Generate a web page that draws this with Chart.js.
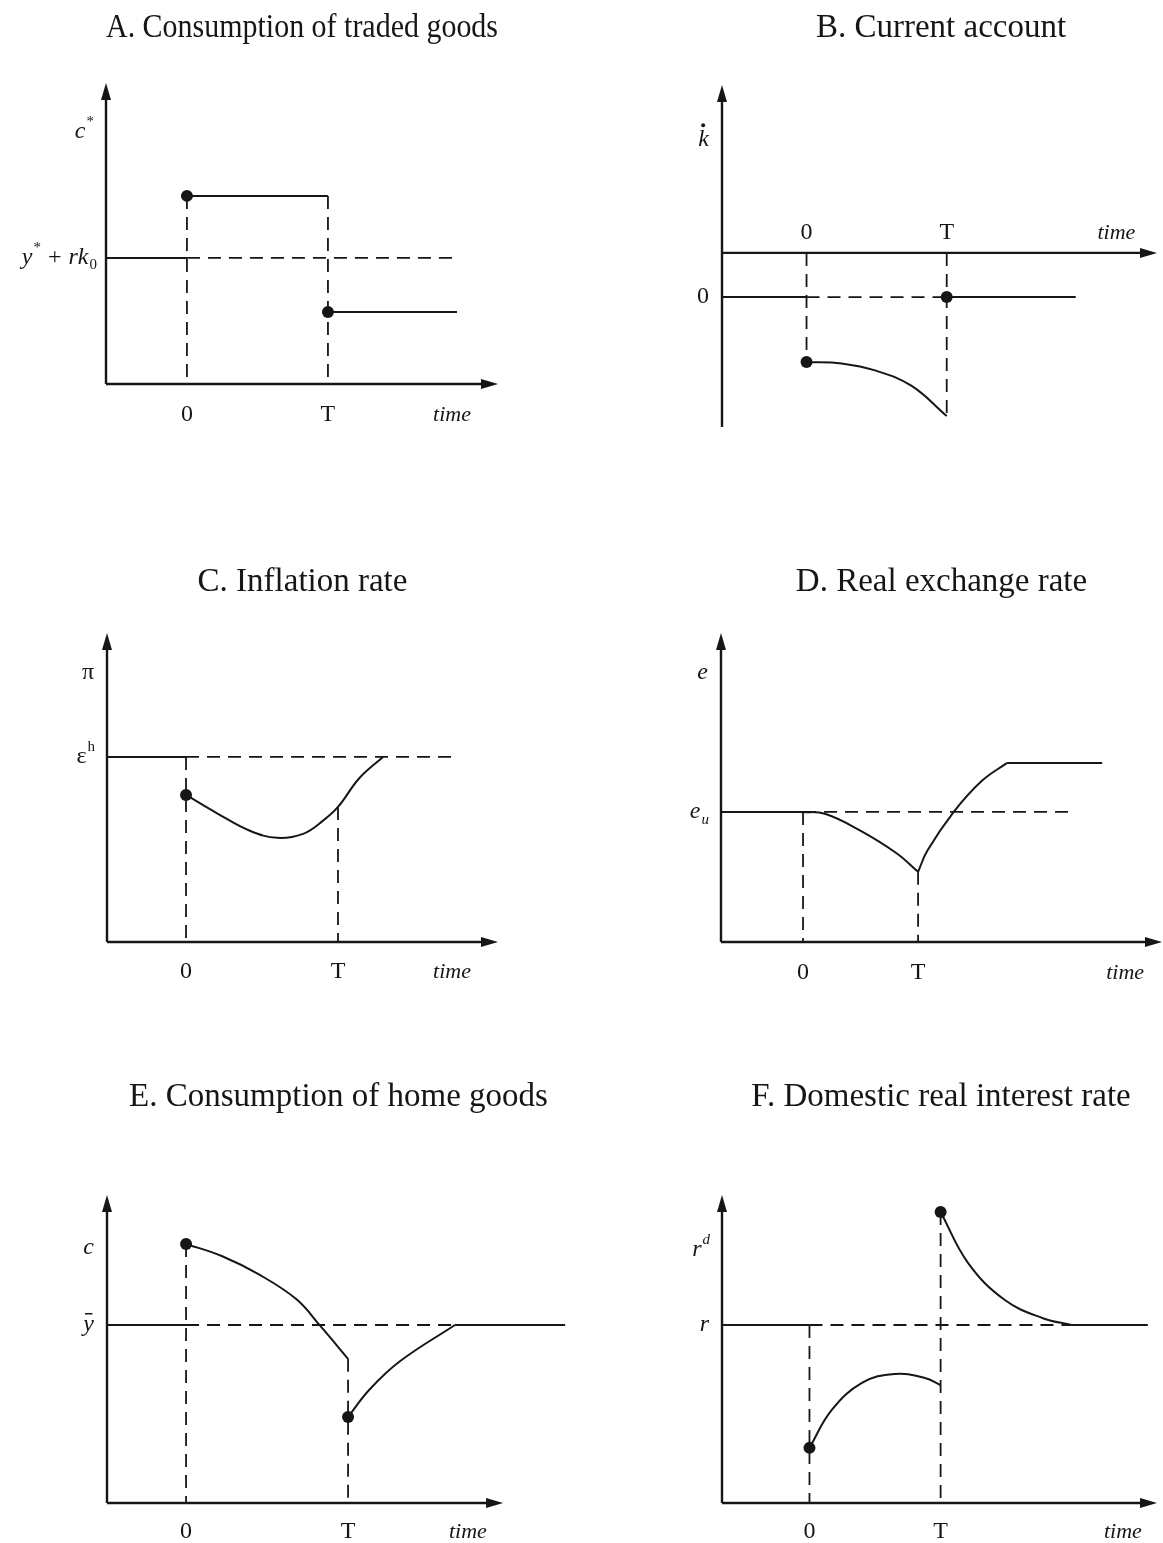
<!DOCTYPE html>
<html>
<head>
<meta charset="utf-8">
<title>Temporary stabilization program</title>
<script src="https://cdn.jsdelivr.net/npm/chart.js@4.4.1/dist/chart.umd.min.js"></script>
<style>
  body { margin: 0; background: #fff; }
  #page { position: relative; width: 1163px; height: 1543px; overflow: hidden; }
  #page canvas { position: absolute; }
</style>
</head>
<body>
<div id="page"></div>
<script>
const INK = "#161616";
const SERIF = "'Liberation Serif', 'DejaVu Serif', serif";

// every x scale puts the start of the program at 0 and its end (T) at 10
const timeMarks = [0, 10];
const timeMarkLabels = ["0", "T"];
const timeWord = "time";

// A. Consumption of traded goods
const tradedDuring = [[0, 6.25], [10, 6.25]];
const tradedAfter = [[10, 2.39], [19.15, 2.39]];
const tradedBase = [4.19, 18.8];          // level y* + rk0, end of the dashes
const tradedDots = [[0, 6.25], [10, 2.39]];

// B. Current account
const caDuring = [[0, 1.9], [2.5, 1.86], [5, 1.64], [7.5, 1.2], [10, 0.32]];
const caZero = [3.8, 19.2];               // level 0, end of the line
const caTimeAxis = 5.09;
const caDots = [[0, 1.9], [10, 3.8]];

// C. Inflation rate
const inflation = [[0, 4.76], [2.1, 4.15], [4.2, 3.6], [6.0, 3.37], [7.7, 3.5],
                   [9.0, 3.92], [10, 4.37], [11.4, 5.3], [12.96, 5.99]];
const inflationBase = [5.99, 17.5];       // level eps^h
const inflationDots = [[0, 4.76]];

// D. Real exchange rate
const rerFall = [[0, 4.21], [1.9, 4.15], [4.9, 3.62], [8.1, 2.88], [10, 2.27]];
const rerRise = [[10, 2.27], [10.8, 2.95], [13.1, 4.21], [15.5, 5.2], [17.7, 5.79]];
const rerNew = [[17.7, 5.79], [26, 5.79]];
const rerBase = [4.21, 23.5];             // level e_u

// E. Consumption of home goods
const homeDuring = [[0, 8.41], [2.2, 8.02], [4.5, 7.42], [6.8, 6.62], [8.3, 5.74], [10, 4.68]];
const homeAfter = [[10, 2.79], [11.3, 3.67], [13.2, 4.6], [16.6, 5.78]];
const homeBase = [5.78, 16.6, 23.4];      // level y-bar, end of dashes, end of line
const homeDots = [[0, 8.41], [10, 2.79]];

// F. Domestic real interest rate
const rateDuring = [[0, 1.79], [1.7, 3.02], [4.0, 3.9], [6.5, 4.19], [8.8, 4.06], [10, 3.83]];
const rateAfter = [[10, 9.45], [12.1, 7.79], [14.9, 6.59], [17.8, 6.0], [20, 5.78]];
const rateBase = [5.78, 20, 25.8];        // level r, end of dashes, end of line
const rateDots = [[0, 1.79], [10, 9.45]];

const pts = a => a.map(([x, y]) => ({ x, y }));

function solid(data) {
  return { data: pts(data), borderColor: INK, borderWidth: 2, pointRadius: 0,
           fill: false, tension: 0.4 };
}
function dashed(data) {
  return Object.assign(solid(data), { borderDash: [13, 8], borderWidth: 1.8, tension: 0 });
}
function dots(data) {
  return { data: pts(data), showLine: false, pointRadius: 6, pointHoverRadius: 6,
           pointBackgroundColor: INK, pointBorderWidth: 0 };
}
function drop(x, from, to) {
  return dashed([[x, from], [x, to]]);
}

function arrowHead(ctx, x, y, dir) {
  ctx.beginPath();
  if (dir === "up") {
    ctx.moveTo(x, y); ctx.lineTo(x - 5, y + 17); ctx.lineTo(x + 5, y + 17);
  } else {
    ctx.moveTo(x, y); ctx.lineTo(x - 17, y - 5); ctx.lineTo(x - 17, y + 5);
  }
  ctx.closePath();
  ctx.fill();
}

// label made of pieces: {t, i: italic, sup, sub, dot: dot above, bar: bar above}
function richText(ctx, segs, xRight, yMid, size) {
  const parts = segs.map(s => {
    const sz = s.sup || s.sub ? Math.round(size * 0.62) : size;
    const font = (s.i ? "italic " : "") + sz + "px " + SERIF;
    ctx.font = font;
    return { s, font, w: ctx.measureText(s.t).width, sz };
  });
  let x = xRight - parts.reduce((n, p) => n + p.w, 0);
  parts.forEach(p => {
    ctx.font = p.font;
    const dy = p.s.sup ? -size * 0.42 : p.s.sub ? size * 0.32 : 0;
    ctx.fillText(p.s.t, x, yMid + dy);
    if (p.s.dot) {
      ctx.beginPath();
      ctx.arc(x + p.w * 0.45, yMid - size * 0.62, 2, 0, Math.PI * 2);
      ctx.fill();
    }
    if (p.s.bar) {
      ctx.fillRect(x + p.w * 0.15, yMid - size * 0.5, p.w * 0.7, 1.5);
    }
    x += p.w + 1;
  });
}

const diagram = {
  id: "diagram",
  afterDatasetsDraw(chart, args, o) {
    const { ctx, chartArea: a, scales: { x, y } } = chart;
    const axisY = y.getPixelForValue(o.axisAt);
    const xEnd = x.getPixelForValue(o.axisEnd);
    ctx.save();
    ctx.strokeStyle = INK;
    ctx.fillStyle = INK;
    ctx.lineWidth = 2.4;
    ctx.beginPath();
    ctx.moveTo(a.left, a.bottom);
    ctx.lineTo(a.left, a.top + 12);
    ctx.moveTo(a.left, axisY);
    ctx.lineTo(xEnd - 12, axisY);
    ctx.stroke();
    arrowHead(ctx, a.left, a.top, "up");
    arrowHead(ctx, xEnd, axisY, "right");

    ctx.textBaseline = "middle";
    ctx.textAlign = "center";
    ctx.font = "24px " + SERIF;
    timeMarks.forEach((v, i) => {
      ctx.fillText(timeMarkLabels[i], x.getPixelForValue(v), axisY + o.markGap);
    });
    ctx.font = "italic 22px " + SERIF;
    ctx.fillText(timeWord, x.getPixelForValue(o.timeAt), axisY + o.markGap);

    ctx.textAlign = "left";
    o.levels.forEach(l => richText(ctx, l.segs, a.left - 13, y.getPixelForValue(l.at), 24));
    ctx.restore();
  }
};

function panel(box, title, xRange, datasets, opts) {
  const canvas = document.createElement("canvas");
  canvas.width = box.w;
  canvas.height = box.h;
  canvas.style.left = box.left + "px";
  canvas.style.top = box.top + "px";
  document.getElementById("page").appendChild(canvas);
  return new Chart(canvas, {
    type: "line",
    data: { datasets },
    plugins: [diagram],
    options: {
      responsive: false,
      animation: false,
      events: [],
      layout: { padding: box.pad },
      scales: {
        x: { type: "linear", min: xRange[0], max: xRange[1], display: false },
        y: { type: "linear", min: 0, max: 10, display: false }
      },
      plugins: {
        legend: { display: false },
        tooltip: { enabled: false },
        title: {
          display: true, text: title, color: INK,
          font: { family: SERIF, size: 33, weight: "normal", lineHeight: 1 },
          padding: box.titlePad
        },
        diagram: Object.assign({ axisEnd: xRange[1], axisAt: 0, markGap: 31 }, opts)
      }
    }
  });
}

// A
panel({ left: 0, top: 0, w: 580, h: 450, pad: { left: 106, right: 82, bottom: 66 }, titlePad: { top: 12, bottom: 38 } },
  "A. Consumption of traded goods", [-5.74, 22.06],
  [
    solid(tradedDuring), solid(tradedAfter),
    solid([[-5.74, tradedBase[0]], [0, tradedBase[0]]]),
    dashed([[0, tradedBase[0]], [tradedBase[1], tradedBase[0]]]),
    drop(0, tradedDuring[0][1], 0), drop(10, tradedDuring[1][1], 0),
    dots(tradedDots)
  ],
  { timeAt: 18.8, levels: [
    { at: 8.37, segs: [{ t: "c", i: true }, { t: "*", sup: true }] },
    { at: tradedBase[0], segs: [{ t: "y", i: true }, { t: "*", sup: true }, { t: " + " }, { t: "rk", i: true }, { t: "0", sub: true }] }
  ] });

// B
panel({ left: 580, top: 0, w: 583, h: 450, pad: { left: 142, right: 3, bottom: 23 }, titlePad: { top: 12, bottom: 40 } },
  "B. Current account", [-6.03, 25.0],
  [
    solid(caDuring),
    solid([[-6.03, caZero[0]], [0, caZero[0]]]),
    dashed([[0, caZero[0]], [10, caZero[0]]]),
    solid([[10, caZero[0]], [caZero[1], caZero[0]]]),
    drop(0, caTimeAxis, caDuring[0][1]), drop(10, caTimeAxis, caDuring[caDuring.length - 1][1]),
    dots(caDots)
  ],
  { axisAt: caTimeAxis, markGap: -20, timeAt: 22.1, levels: [
    { at: 8.39, segs: [{ t: "k", i: true, dot: true }] },
    { at: caZero[0], segs: [{ t: "0" }] }
  ] });

// C
panel({ left: 0, top: 545, w: 580, h: 450, pad: { left: 107, right: 82, bottom: 53 }, titlePad: { top: 21, bottom: 34 } },
  "C. Inflation rate", [-5.2, 20.53],
  [
    solid(inflation),
    solid([[-5.2, inflationBase[0]], [0, inflationBase[0]]]),
    dashed([[0, inflationBase[0]], [inflationBase[1], inflationBase[0]]]),
    drop(0, inflationBase[0], 0), drop(10, 4.37, 0),
    dots(inflationDots)
  ],
  { markGap: 30, timeAt: 17.5, levels: [
    { at: 8.7, segs: [{ t: "\u03c0" }] },
    { at: inflationBase[0], segs: [{ t: "\u03b5" }, { t: "h", sup: true }] }
  ] });

// D
panel({ left: 580, top: 545, w: 583, h: 450, pad: { left: 141, right: 1, bottom: 53 }, titlePad: { top: 21, bottom: 34 } },
  "D. Real exchange rate", [-7.13, 31.2],
  [
    solid(rerFall), solid(rerRise), solid(rerNew),
    solid([[-7.13, rerBase[0]], [0, rerBase[0]]]),
    dashed([[0, rerBase[0]], [rerBase[1], rerBase[0]]]),
    drop(0, rerBase[0], 0), drop(10, rerFall[rerFall.length - 1][1], 0)
  ],
  { markGap: 31, timeAt: 28.0, levels: [
    { at: 8.7, segs: [{ t: "e", i: true }] },
    { at: rerBase[0], segs: [{ t: "e", i: true }, { t: "u", sub: true, i: true }] }
  ] });

// E
panel({ left: 0, top: 1060, w: 580, h: 483, pad: { left: 107, right: 10, bottom: 40 }, titlePad: { top: 21, bottom: 81 } },
  "E. Consumption of home goods", [-4.88, 23.7],
  [
    solid(homeDuring), solid(homeAfter),
    solid([[-4.88, homeBase[0]], [0, homeBase[0]]]),
    dashed([[0, homeBase[0]], [homeBase[1], homeBase[0]]]),
    solid([[homeBase[1], homeBase[0]], [homeBase[2], homeBase[0]]]),
    drop(0, homeDuring[0][1], 0), drop(10, homeDuring[homeDuring.length - 1][1], 0),
    dots(homeDots)
  ],
  { axisEnd: 19.57, markGap: 29, timeAt: 17.4, levels: [
    { at: 8.28, segs: [{ t: "c", i: true }] },
    { at: homeBase[0], segs: [{ t: "y", i: true, bar: true }] }
  ] });

// F
panel({ left: 580, top: 1060, w: 583, h: 483, pad: { left: 142, right: 3, bottom: 40 }, titlePad: { top: 21, bottom: 81 } },
  "F. Domestic real interest rate", [-6.67, 26.5],
  [
    solid(rateDuring), solid(rateAfter),
    solid([[-6.67, rateBase[0]], [0, rateBase[0]]]),
    dashed([[0, rateBase[0]], [rateBase[1], rateBase[0]]]),
    solid([[rateBase[1], rateBase[0]], [rateBase[2], rateBase[0]]]),
    drop(0, rateBase[0], 0), drop(10, rateAfter[0][1], 0),
    dots(rateDots)
  ],
  { markGap: 29, timeAt: 23.9, levels: [
    { at: 8.21, segs: [{ t: "r", i: true }, { t: "d", sup: true, i: true }] },
    { at: rateBase[0], segs: [{ t: "r", i: true }] }
  ] });
</script>
</body>
</html>
